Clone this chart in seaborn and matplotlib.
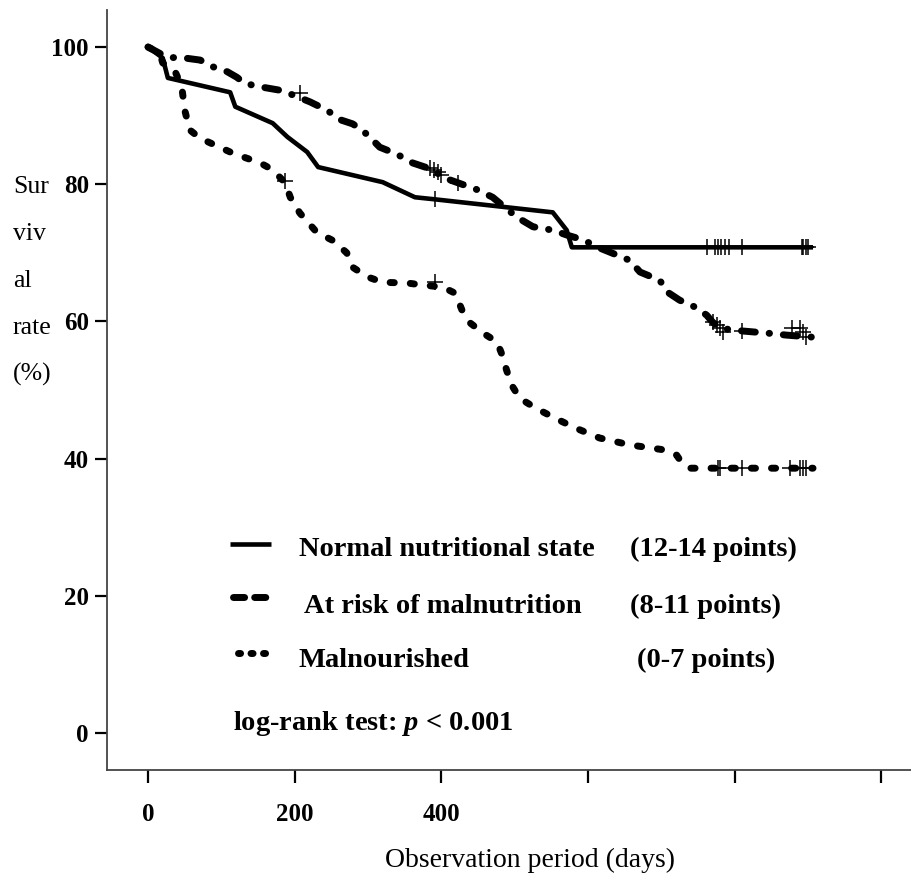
import matplotlib.pyplot as plt
import seaborn as sns
import pandas as pd
from matplotlib.lines import Line2D

# Kaplan-Meier curves (days, survival %)
normal_days = [0, 20, 27, 112, 119, 170, 190, 217, 232, 320, 364, 391, 552, 571, 578, 907]
normal_surv = [100, 98.4, 95.5, 93.4, 91.3, 88.9, 86.9, 84.7, 82.5, 80.3, 78.1, 77.8,
               75.9, 73.3, 70.8, 70.8]

risk_days = [0, 26, 50, 71, 89, 108, 121, 132, 153, 180, 198, 221, 244, 262, 279, 292,
             303, 316, 339, 361, 389, 402, 449, 470, 503, 525, 552, 571, 593, 616, 639,
             657, 671, 698, 708, 725, 748, 762, 770, 780, 811, 844, 871, 907]
risk_surv = [100, 98.5, 98.4, 98.1, 97.1, 96.4, 95.6, 94.7, 94.2, 93.7, 93.0, 92.0, 90.8,
             89.4, 88.8, 87.9, 86.8, 85.4, 84.4, 83.1, 82.1, 81.0, 79.2, 78.1, 75.2, 73.8,
             73.3, 72.6, 71.9, 70.7, 69.7, 68.9, 67.2, 66.0, 64.3, 63.1, 62.0, 60.9, 59.9,
             59.0, 58.6, 58.3, 58.0, 57.7]

mal_days = [0, 16, 20, 37, 46, 50, 57, 71, 116, 153, 170, 187, 194, 207, 230, 252, 271,
            279, 299, 320, 353, 375, 402, 419, 428, 439, 457, 476, 483, 489, 496, 507,
            528, 555, 582, 616, 657, 702, 721, 728, 739, 907]
mal_surv = [100, 99.1, 97.7, 96.4, 94.2, 90.8, 87.9, 86.7, 84.5, 83.1, 82.1, 80.2, 78.1,
            75.8, 73.0, 71.8, 70.0, 67.9, 66.5, 65.7, 65.6, 65.3, 65.0, 64.1, 61.7, 59.8,
            58.3, 57.0, 55.1, 52.9, 50.7, 48.8, 47.4, 45.9, 44.5, 43.0, 42.0, 41.3, 40.5,
            39.4, 38.6, 38.6]

# censored observations
normal_cens_days = [391, 763, 773, 777, 782, 787, 793, 810, 892, 894, 897, 900]
normal_cens_surv = [77.8, 70.8, 70.8, 70.8, 70.8, 70.8, 70.8, 70.8, 70.8, 70.8, 70.8, 70.8]
risk_cens_days = [207, 385, 390, 395, 400, 423, 770, 776, 780, 784, 810, 879, 889, 893, 898]
risk_cens_surv = [93.3, 82.4, 82.1, 81.8, 81.4, 80.2, 59.9, 59.5, 59.0, 58.5, 58.6, 59.0,
                  59.0, 58.5, 57.7]
mal_cens_days = [187, 391, 777, 780, 810, 875, 889, 893, 898]
mal_cens_surv = [80.4, 65.8, 38.6, 38.6, 38.6, 38.6, 38.6, 38.6, 38.6]

x_ticks = [0, 200, 400, 600, 800, 1000]
x_ticklabels = ['0', '200', '400', '', '', '']
y_ticks = [0, 20, 40, 60, 80, 100]

legend_labels = ['Normal nutritional state', 'At risk of malnutrition', 'Malnourished']
legend_points = ['(12-14 points)', '(8-11 points)', '(0-7 points)']
ylabel_parts = ['Sur', 'viv', 'al', 'rate', '(%)']

sns.set_style('white')
plt.rcParams['font.family'] = ['Liberation Serif', 'DejaVu Serif']
plt.rcParams['text.color'] = 'black'
plt.rcParams['xtick.labelcolor'] = 'black'
plt.rcParams['ytick.labelcolor'] = 'black'
plt.rcParams['mathtext.fontset'] = 'custom'
plt.rcParams['mathtext.it'] = 'Liberation Serif:italic:bold'
plt.rcParams['mathtext.rm'] = 'Liberation Serif:bold'

W, H = 912, 877
fig = plt.figure(figsize=(W / 100, H / 100), dpi=100)
ax = fig.add_axes([107 / W, (H - 770) / H, (W - 107) / W, 760 / H])


def fx(px):
    return px / W


def fy(py):
    return 1 - py / H


solid = dict(color='black', lw=3.3, solid_capstyle='butt', solid_joinstyle='round')
dashdot = dict(color='black', lw=5, dash_capstyle='round', ls=(0, (2.0, 2.0, 0.05, 2.0)))
dotted = dict(color='black', lw=5, dash_capstyle='round', ls=(0, (0.6, 2.3)))

sns.lineplot(x=normal_days, y=normal_surv, ax=ax, sort=False, estimator=None, **solid)
sns.lineplot(x=risk_days, y=risk_surv, ax=ax, sort=False, estimator=None, **dashdot)
sns.lineplot(x=mal_days, y=mal_surv, ax=ax, sort=False, estimator=None, **dotted)

for d, s in [(normal_cens_days, normal_cens_surv), (risk_cens_days, risk_cens_surv),
             (mal_cens_days, mal_cens_surv)]:
    sns.scatterplot(x=d, y=s, ax=ax, marker='+', s=130, color='black', linewidth=1.1,
                    zorder=5)

ax.set_xlim(-56, 1042)
ax.set_ylim(-5.4, 105.4)
ax.set_xticks(x_ticks)
ax.set_xticklabels(x_ticklabels)
ax.set_yticks(y_ticks)
ax.tick_params(axis='x', bottom=True, direction='out', length=9.5, width=1.6, pad=14,
               labelsize=18, color='black', labelcolor='black')
ax.tick_params(axis='y', left=True, direction='out', length=9, width=1.6, pad=4,
               labelsize=18, color='black', labelcolor='black')
for lab in ax.get_xticklabels() + ax.get_yticklabels():
    lab.set_fontweight('bold')

sns.despine(ax=ax)
for sp in ['left', 'bottom']:
    ax.spines[sp].set_color('#444444')
    ax.spines[sp].set_linewidth(1.3)
ax.set_xlabel('')
ax.set_ylabel('')

# axis titles
fig.text(fx(530), fy(860), 'Observation period (days)', ha='center', va='center',
         fontsize=20, color='black')
for i, part in enumerate(ylabel_parts):
    fig.text(fx(13), fy(193 + 47 * i), part, ha='left', va='baseline', fontsize=18.5,
             color='black')

# legend drawn by hand
samples = [(230, 271, 544, solid),
           (233, 268, 597, dict(color='black', lw=5, dash_capstyle='round',
                                ls=(0, (1.6, 1.45)))),
           (238, 275, 653, dict(color='black', lw=5, dash_capstyle='round',
                                ls=(0, (0.3, 1.5))))]
for x0, x1, y, st in samples:
    fig.add_artist(Line2D([fx(x0), fx(x1)], [fy(y), fy(y)], **st))

rows_y = [556, 613, 667]
label_x = [299, 304, 299]
point_x = [630, 630, 637]
for lab, pts, y, lx, px in zip(legend_labels, legend_points, rows_y, label_x, point_x):
    fig.text(fx(lx), fy(y), lab, fontsize=20.5, fontweight='bold', va='baseline',
             color='black')
    fig.text(fx(px), fy(y), pts, fontsize=20.5, fontweight='bold', va='baseline',
             color='black')

fig.text(fx(233), fy(730), r'log-rank test: $\mathit{p}$ < 0.001', fontsize=20.5,
         fontweight='bold', va='baseline', color='black')

plt.savefig('out.png', dpi=100)
